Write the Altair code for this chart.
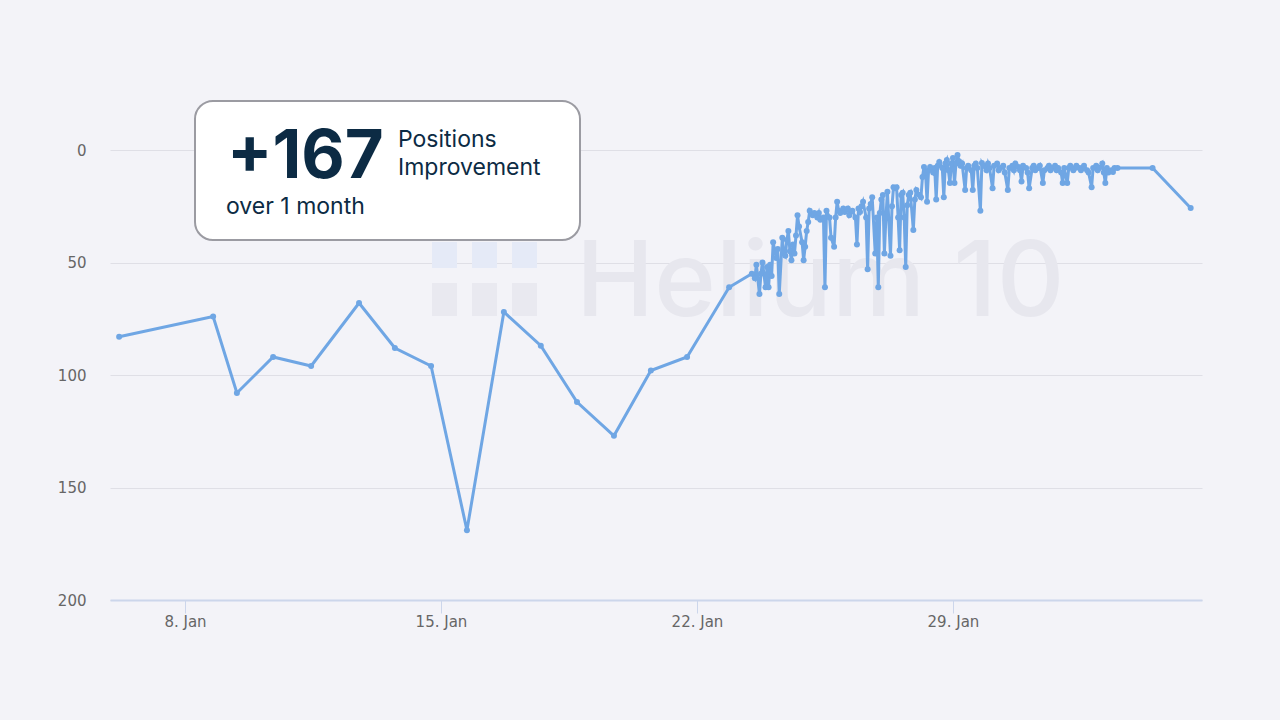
import altair as alt
import pandas as pd

# ---- data ----
# early daily observations: day of January (fractional) and rank
early_days = [6.20, 8.77, 9.42, 10.41, 11.45, 12.76, 13.74, 14.73, 15.71,
              16.72, 17.73, 18.72, 19.73, 20.74, 21.73, 22.88]
early_ranks = [83, 74, 108, 92, 96, 68, 88, 96, 169, 72, 87, 112, 127, 98, 92, 61]

# dense hourly-ish observations: hours after 23 Jan 12:00, and rank
dense_hours = [0, 2, 3, 5, 6, 7, 9, 10, 11, 12, 13, 14, 16, 17, 18, 20, 21, 22, 23, 24,
               25, 26, 27, 28, 29, 30, 31, 33, 34, 35, 36, 37, 38, 40, 41, 43, 44, 45, 47, 48,
               49, 51, 52, 54, 55, 56, 57, 58, 60, 61, 63, 64, 66, 68, 69, 70, 71, 72, 73, 75,
               76, 77, 78, 79, 81, 82, 83, 84, 85, 86, 87, 88, 89, 91, 92, 93, 94, 95, 96, 97,
               98, 99, 100, 101, 102, 103, 104, 106, 107, 108, 110, 111, 112, 113, 114, 115, 116, 117, 119, 120,
               121, 122, 123, 125, 126, 127, 128, 129, 130, 131, 132, 133, 134, 135, 136, 137, 138, 140, 141, 142,
               144, 145, 146, 147, 148, 150, 151, 152, 154, 155, 156, 158, 159, 161, 162, 163, 165, 166, 168, 169,
               171, 172, 173, 175, 176, 177, 178, 180, 181, 182, 184, 185, 186, 188, 189, 191, 192, 194, 195, 196,
               197, 199, 200, 201, 203, 204, 205, 207, 208, 209, 211, 212, 213, 215, 216, 217, 218, 220, 221, 223,
               224, 226, 227, 228, 230, 231, 232, 233, 234, 236, 237, 238, 240, 263, 288]
dense_ranks = [55, 57, 51, 64, 55, 50, 61, 52, 61, 51, 56, 41, 48, 44, 64, 39, 46, 47, 40, 36,
               45, 49, 42, 46, 38, 29, 34, 41, 49, 43, 36, 32, 27, 29, 28, 30, 28, 31, 30, 61,
               27, 30, 39, 43, 30, 23, 27, 28, 26, 27.5, 26, 29, 27, 30, 42, 26, 27.5, 25, 23, 30,
               53, 26, 24, 21, 46, 30, 61, 28, 22, 20, 46, 30, 18.5, 47, 25, 16.5, 17, 16.5, 30, 44.5,
               20, 19, 30, 52, 24.5, 20, 19, 35.5, 22, 17.8, 20, 21, 12, 7.5, 10, 23, 9, 7.5, 10, 8,
               22, 7, 5.3, 8, 21, 6, 4.4, 9, 14.7, 6, 3.6, 14.7, 6, 2.2, 5, 7, 6, 17.8, 8, 7,
               9, 17.8, 7, 6, 8, 27, 5.8, 7, 9, 6, 8, 17, 7, 6, 9, 8, 7, 10, 17.8, 8,
               7, 9, 6, 7.5, 9, 14, 7, 8, 10, 17, 8, 7, 9, 8, 7, 14.7, 9, 8, 7, 9,
               8, 7, 9, 8, 10, 14.7, 8, 14.7, 8, 7, 9, 8, 7, 8, 9, 8, 7, 9, 10, 16.5,
               8, 7, 9, 8, 6, 10, 14.7, 8, 10, 9, 9.8, 8, 8, 8, 25.8]

y_ticks = [0, 50, 100, 150, 200]
x_tick_days = [8, 15, 22, 29]

# ---- build table ----
jan1 = pd.Timestamp("2024-01-01", tz="UTC")
base = pd.Timestamp("2024-01-23 12:00", tz="UTC")
t_early = [jan1 + pd.Timedelta(days=d - 1) for d in early_days]
t_dense = [base + pd.Timedelta(hours=h) for h in dense_hours]
ms = lambda t: int(t.value // 1_000_000)
df = pd.DataFrame({
    "t": [ms(t) for t in t_early + t_dense],
    "rank": early_ranks + dense_ranks,
})

x_dom = [ms(jan1 + pd.Timedelta(days=4.95)), ms(jan1 + pd.Timedelta(days=34.81))]
x_vals = [ms(jan1 + pd.Timedelta(days=d - 1)) for d in x_tick_days]

LINE = "#6fa6e4"
NAVY = "#0c2b44"
one = pd.DataFrame({"a": [0]})

x_enc = alt.X("t:T", scale=alt.Scale(type="utc", domain=x_dom),
              axis=alt.Axis(values=x_vals, labelExpr="utcFormat(datum.value, '%-d. %b')",
                            title=None,
                            grid=False, domainColor="#ccd6eb", domainWidth=2,
                            tickColor="#ccd6eb", tickSize=13, tickWidth=1,
                            labelFont="DejaVu Sans", labelFontSize=15, labelColor="#666666",
                            labelPadding=1))
y_enc = alt.Y("rank:Q", scale=alt.Scale(domain=[0, 200], reverse=True),
              axis=alt.Axis(values=y_ticks, title=None, domain=False, ticks=False,
                            gridColor="#dfdfe6", gridWidth=1,
                            labelFont="DejaVu Sans", labelFontSize=15, labelColor="#666666",
                            labelPadding=24))

# watermark logo
logo = pd.DataFrame({
    "x": [432, 472, 512, 432, 472, 512],
    "x2": [457, 497, 537, 457, 497, 537],
    "y": [242, 242, 242, 283, 283, 283],
    "y2": [268, 268, 268, 316, 316, 316],
    "c": ["#e5eaf7", "#e5eaf7", "#e5eaf7", "#e9e9f0", "#e9e9f0", "#e9e9f0"],
})
logo_layer = alt.Chart(logo).mark_rect().encode(
    x=alt.X("px:Q", scale=None), x2="px2:Q", y=alt.Y("py:Q", scale=None), y2="py2:Q",
    color=alt.Color("c:N", scale=None),
).transform_calculate(px="datum.x - 110", px2="datum.x2 - 110",
                      py="datum.y - 150", py2="datum.y2 - 150")

wm_text = alt.Chart(one).mark_text(
    text="Helium 10", font="Inter", fontSize=105, fontWeight=500, color="#e7e7ee",
    align="left", baseline="alphabetic"
).encode(x=alt.value(576 - 110), y=alt.value(316 - 150))

line = alt.Chart(df).mark_line(
    color=LINE, strokeWidth=3,
    point=alt.OverlayMarkDef(color=LINE, size=36, filled=True, opacity=1)
).encode(x=x_enc, y=y_enc)

box = alt.Chart(one).mark_rect(
    fill="white", stroke="#9b9ba2", strokeWidth=2, cornerRadius=18
).encode(x=alt.value(195 - 110), x2=alt.value(580 - 110),
         y=alt.value(101 - 150), y2=alt.value(240 - 150))

big = alt.Chart(one).mark_text(
    text="+167", font="Inter", fontSize=67, fontWeight=700, color=NAVY,
    align="left", baseline="alphabetic"
).encode(x=alt.value(227 - 110), y=alt.value(178 - 150))

pos = alt.Chart(one).mark_text(
    text="Positions", font="Inter", fontSize=23, fontWeight=400, color=NAVY,
    align="left", baseline="alphabetic"
).encode(x=alt.value(398 - 110), y=alt.value(147 - 150))

imp = alt.Chart(one).mark_text(
    text="Improvement", font="Inter", fontSize=23, fontWeight=400, color=NAVY,
    align="left", baseline="alphabetic"
).encode(x=alt.value(398 - 110), y=alt.value(175 - 150))

over = alt.Chart(one).mark_text(
    text="over 1 month", font="Inter", fontSize=23, fontWeight=400, color=NAVY,
    align="left", baseline="alphabetic"
).encode(x=alt.value(226 - 110), y=alt.value(214 - 150))

chart = alt.layer(logo_layer, wm_text, line, box, big, pos, imp, over).properties(
    width=1092, height=450,
    autosize=alt.AutoSizeParams(type="none"),
    padding={"left": 110, "top": 150, "right": 78, "bottom": 120},
    background="#f3f3f8",
).configure_view(stroke=None)

chart.save("out.html", embed_options={"renderer": "svg", "actions": False})
